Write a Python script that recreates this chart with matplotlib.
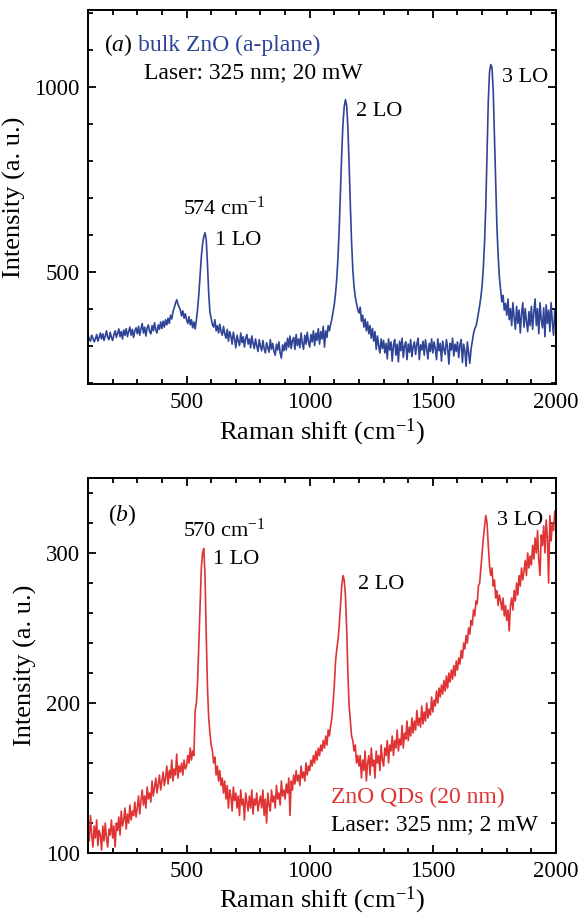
import numpy as np
import matplotlib
matplotlib.use('Agg')
import matplotlib.pyplot as plt
from matplotlib.ticker import MultipleLocator

plt.rcParams['font.family'] = ['Liberation Serif', 'DejaVu Serif']
plt.rcParams['mathtext.fontset'] = 'custom'
plt.rcParams['mathtext.rm'] = 'Liberation Serif'
plt.rcParams['mathtext.it'] = 'Liberation Serif:italic'

# Raman shift grid (cm^-1), one sample every 5 cm^-1
shift = np.arange(100, 2001, 5)

# (a) bulk ZnO (a-plane)
bulk_zno = [
    330, 318, 312, 328, 320, 310, 318, 330, 312, 322, 334, 318, 332, 314, 326, 340, 322, 316, 336, 322,
    314, 330, 340, 322, 334, 345, 324, 338, 318, 342, 328, 346, 324, 338, 350, 328, 344, 322, 340, 348,
    332, 352, 328, 346, 360, 334, 350, 326, 348, 356, 338, 332, 354, 340, 362, 342, 334, 356, 344, 364,
    346, 366, 350, 370, 356, 374, 360, 382, 372, 392, 402, 414, 424, 412, 404, 396, 380, 394, 374, 386,
    370, 360, 378, 356, 370, 348, 364, 345, 370, 400, 440, 490, 540, 575, 595, 605, 585, 520, 440, 390,
    374, 356, 350, 370, 340, 354, 334, 358, 338, 328, 352, 332, 320, 344, 312, 338, 326, 304, 336, 318,
    294, 328, 312, 300, 334, 308, 324, 296, 320, 330, 304, 318, 294, 326, 306, 292, 318, 300, 284, 316,
    298, 286, 314, 292, 280, 308, 294, 282, 316, 290, 306, 284, 274, 304, 288, 310, 280, 266, 302, 286,
    308, 288, 320, 296, 326, 292, 314, 322, 290, 330, 300, 318, 294, 334, 306, 290, 328, 304, 336, 310,
    296, 330, 310, 340, 300, 334, 314, 346, 304, 338, 318, 352, 296, 340, 322, 354, 340, 358, 372, 392,
    412, 442, 482, 540, 620, 720, 820, 900, 945, 965, 950, 890, 790, 680, 580, 505, 460, 432, 414, 398,
    388, 404, 366, 382, 350, 372, 340, 364, 332, 354, 320, 346, 312, 338, 290, 326, 300, 280, 318, 292,
    314, 280, 306, 264, 318, 288, 310, 258, 302, 316, 274, 304, 256, 312, 286, 320, 268, 300, 310, 262,
    304, 282, 316, 270, 298, 310, 276, 304, 320, 262, 302, 288, 312, 274, 316, 292, 264, 306, 284, 318,
    280, 310, 292, 262, 318, 286, 306, 258, 312, 290, 276, 316, 294, 250, 306, 288, 320, 272, 304, 284,
    310, 268, 302, 316, 254, 304, 286, 244, 310, 280, 252, 290, 312, 332, 346, 352, 368, 388, 408, 432,
    462, 512, 582, 680, 820, 960, 1040, 1060, 1052, 990, 870, 740, 622, 545, 485, 452, 418, 436, 396, 414,
    382, 426, 370, 400, 354, 416, 376, 344, 406, 360, 396, 334, 386, 416, 350, 400, 364, 338, 392, 354,
    406, 344, 390, 426, 354, 400, 332, 416, 370, 348, 402, 324, 410, 360, 396, 338, 416, 364, 328, 396,
    346,
]

# (b) ZnO QDs (20 nm)
qd_zno = [
    120, 108, 125, 112, 104, 118, 110, 122, 105, 115, 112, 102, 118, 108, 120, 110, 104, 116, 112, 122,
    110, 118, 104, 120, 115, 124, 112, 128, 118, 122, 130, 116, 126, 120, 132, 122, 128, 125, 134, 124,
    130, 138, 126, 135, 142, 132, 138, 130, 144, 136, 140, 134, 148, 138, 144, 150, 140, 146, 152, 142,
    148, 154, 145, 150, 158, 146, 155, 150, 162, 148, 156, 152, 166, 150, 158, 154, 160, 152, 162, 156,
    158, 165, 160, 170, 162, 168, 165, 195, 200, 215, 240, 265, 290, 300, 303, 285, 245, 210, 190, 180,
    172, 168, 160, 164, 152, 158, 148, 155, 145, 150, 140, 148, 136, 145, 130, 142, 138, 128, 144, 135,
    140, 130, 138, 125, 142, 132, 136, 122, 140, 134, 128, 138, 130, 142, 126, 136, 132, 140, 128, 134,
    138, 130, 142, 125, 136, 120, 140, 132, 128, 142, 134, 138, 130, 145, 136, 140, 132, 148, 138, 142,
    136, 146, 140, 150, 125, 148, 142, 152, 146, 155, 148, 152, 145, 158, 150, 154, 148, 160, 152, 158,
    155, 162, 158, 165, 160, 168, 162, 170, 165, 172, 168, 175, 170, 178, 172, 182, 178, 185, 190, 200,
    212, 228, 236, 242, 252, 265, 278, 285, 282, 272, 250, 220, 198, 188, 178, 175, 168, 172, 160, 165,
    158, 165, 150, 162, 155, 168, 148, 160, 165, 152, 170, 158, 162, 150, 168, 160, 165, 155, 172, 162,
    158, 170, 165, 175, 160, 172, 168, 178, 165, 175, 170, 182, 168, 176, 172, 185, 170, 180, 176, 188,
    175, 184, 178, 190, 180, 188, 182, 195, 185, 190, 184, 198, 186, 194, 188, 200, 190, 196, 192, 204,
    194, 202, 198, 208, 200, 210, 204, 212, 206, 215, 208, 218, 210, 220, 214, 222, 216, 225, 218, 228,
    222, 230, 226, 235, 230, 240, 236, 245, 240, 250, 246, 255, 252, 262, 258, 268, 266, 278, 280, 290,
    300, 310, 318, 325, 320, 305, 292, 285, 290, 278, 282, 270, 275, 265, 272, 268, 262, 270, 258, 265,
    255, 262, 248, 265, 270, 262, 275, 268, 280, 272, 285, 278, 290, 282, 288, 295, 285, 300, 290, 298,
    292, 305, 296, 310, 300, 315, 295, 285, 312, 305, 318, 300, 322, 310, 280, 325, 308, 320, 315, 328,
    318,
]

blue = '#2f4496'
red = '#e03434'

fig = plt.figure(figsize=(5.81, 9.21), dpi=100)
ax_a = fig.add_axes([0.1515, 0.583, 0.8055, 0.406])
ax_b = fig.add_axes([0.1515, 0.0738, 0.8055, 0.4072])


def style_axis(ax, ylim, ymajor, yminor):
    ax.set_xlim(100, 2000)
    ax.set_ylim(*ylim)
    ax.xaxis.set_major_locator(MultipleLocator(500))
    ax.xaxis.set_minor_locator(MultipleLocator(100))
    ax.yaxis.set_major_locator(MultipleLocator(ymajor))
    ax.yaxis.set_minor_locator(MultipleLocator(yminor))
    ax.tick_params(which='both', direction='in', top=True, right=True,
                   width=1.3, labelsize=16.5, pad=6)
    ax.tick_params(which='major', length=6)
    ax.tick_params(which='minor', length=3.5)
    for sp in ax.spines.values():
        sp.set_linewidth(1.4)
    ax.set_xlabel('Raman shift (cm$^{-1}$)', fontsize=19, labelpad=2)
    ax.set_ylabel('Intensity (a. u.)', fontsize=19, labelpad=6)


# panel (a)
ax_a.plot(shift, bulk_zno, color=blue, lw=1.2)
style_axis(ax_a, (196, 1207), 500, 100)
ax_a.text(0.034, 0.906, r'($\mathit{a}$)', transform=ax_a.transAxes, fontsize=17, va='center')
ax_a.text(0.106, 0.906, 'bulk ZnO (a-plane)', transform=ax_a.transAxes, fontsize=17,
          color=blue, va='center')
ax_a.text(0.12, 0.834, 'Laser: 325 nm; 20 mW', transform=ax_a.transAxes, fontsize=17, va='center')
ax_a.text(655, 672, '574 cm$^{-1}$', fontsize=16, ha='center', va='center')
ax_a.text(615, 583, '1 LO', fontsize=16, va='center')
ax_a.text(1188, 934, '2 LO', fontsize=16, va='center')
ax_a.text(1781, 1026, '3 LO', fontsize=16, va='center')

# panel (b)
ax_b.plot(shift, qd_zno, color=red, lw=1.2)
style_axis(ax_b, (100, 350), 100, 20)
ax_b.text(0.043, 0.90, r'($\mathit{b}$)', transform=ax_b.transAxes, fontsize=17, va='center')
ax_b.text(652, 315, '570 cm$^{-1}$', fontsize=16, ha='center', va='center')
ax_b.text(607, 296, '1 LO', fontsize=16, va='center')
ax_b.text(1196, 279, '2 LO', fontsize=16, va='center')
ax_b.text(1761, 322, '3 LO', fontsize=16, va='center')
ax_b.text(0.52, 0.147, 'ZnO QDs (20 nm)', transform=ax_b.transAxes, fontsize=17,
          color=red, va='center')
ax_b.text(0.52, 0.076, 'Laser: 325 nm; 2 mW', transform=ax_b.transAxes, fontsize=17, va='center')

fig.savefig('out.png', dpi=100)
